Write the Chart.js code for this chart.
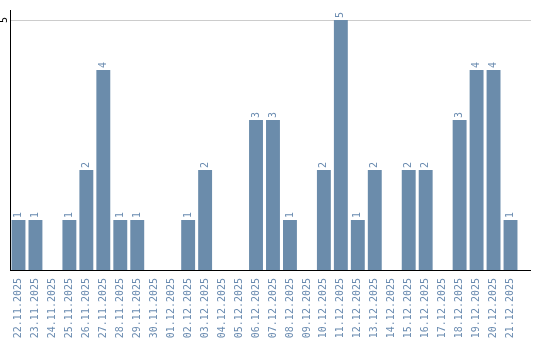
<!DOCTYPE html>
<html>
<head>
<meta charset="utf-8">
<script src="https://cdn.jsdelivr.net/npm/chart.js@4/dist/chart.umd.min.js"></script>
<style>
html,body{margin:0;padding:0;background:#fff;}
#wrap{width:540px;height:340px;position:relative;}
</style>
</head>
<body>
<div id="wrap"><canvas id="c" width="540" height="340"></canvas></div>
<script>
const categories = ["22.11.2025","23.11.2025","24.11.2025","25.11.2025","26.11.2025","27.11.2025","28.11.2025","29.11.2025","30.11.2025","01.12.2025","02.12.2025","03.12.2025","04.12.2025","05.12.2025","06.12.2025","07.12.2025","08.12.2025","09.12.2025","10.12.2025","11.12.2025","12.12.2025","13.12.2025","14.12.2025","15.12.2025","16.12.2025","17.12.2025","18.12.2025","19.12.2025","20.12.2025","21.12.2025"];
const values = [1,1,0,1,2,4,1,1,0,0,1,2,0,0,3,3,1,0,2,5,1,2,0,2,2,0,3,4,4,1];
const yTicks = [5];

const BAR = '#6b8cab';
const TXT = '#6a8bb0';
const FONT = 'DejaVu Sans Mono';

const valueLabels = {
  id: 'valueLabels',
  afterDatasetsDraw(chart) {
    const ctx = chart.ctx;
    const meta = chart.getDatasetMeta(0);
    ctx.save();
    ctx.font = '10px "' + FONT + '"';
    ctx.fillStyle = TXT;
    ctx.textAlign = 'left';
    ctx.textBaseline = 'middle';
    meta.data.forEach((bar, i) => {
      const v = values[i];
      if (!v) return;
      ctx.save();
      ctx.translate(bar.x, bar.y - 2);
      ctx.rotate(-Math.PI / 2);
      ctx.fillText(String(v), 0, 0);
      ctx.restore();
    });
    ctx.restore();
  }
};

const axisExtend = {
  id: 'axisExtend',
  afterDraw(chart) {
    const ctx = chart.ctx;
    const a = chart.chartArea;
    const y = chart.scales.y;
    ctx.save();
    ctx.lineWidth = 1;
    ctx.strokeStyle = '#cccccc';
    yTicks.forEach(t => {
      const py = Math.round(y.getPixelForValue(t)) + 0.5;
      ctx.beginPath(); ctx.moveTo(a.right, py); ctx.lineTo(a.right + 12, py); ctx.stroke();
    });
    ctx.strokeStyle = '#000';
    const pb = Math.round(a.bottom) + 0.5;
    ctx.beginPath(); ctx.moveTo(a.right - 1, pb); ctx.lineTo(a.right + 12, pb); ctx.stroke();
    ctx.restore();
  }
};

new Chart(document.getElementById('c'), {
  type: 'bar',
  data: {
    labels: categories,
    datasets: [{
      data: values,
      backgroundColor: BAR,
      borderWidth: 0,
      barPercentage: 0.82,
      categoryPercentage: 1.0
    }]
  },
  options: {
    responsive: false,
    animation: false,
    devicePixelRatio: 1,
    layout: { padding: { left: 0, right: 21, top: 10, bottom: 0 } },
    plugins: { legend: { display: false }, tooltip: { enabled: false } },
    scales: {
      x: {
        grid: { display: false, drawTicks: false },
        border: { display: true, color: '#000', width: 1 },
        ticks: {
          autoSkip: false, minRotation: 90, maxRotation: 90,
          padding: 8, color: TXT,
          font: { family: FONT, size: 10 }
        },
        afterFit(s) { s.height = 70; }
      },
      y: {
        min: 0, max: 5.2,
        grid: { color: '#cccccc', drawTicks: false, lineWidth: 1 },
        border: { display: true, color: '#000', width: 1 },
        ticks: {
          minRotation: 90, maxRotation: 90, crossAlign: 'center',
          padding: 3, color: '#000',
          font: { family: FONT, size: 10 }
        },
        afterBuildTicks(s) { s.ticks = yTicks.map(v => ({ value: v })); },
        afterFit(s) { s.width = 10; }
      }
    }
  },
  plugins: [valueLabels, axisExtend]
});
</script>
</body>
</html>
